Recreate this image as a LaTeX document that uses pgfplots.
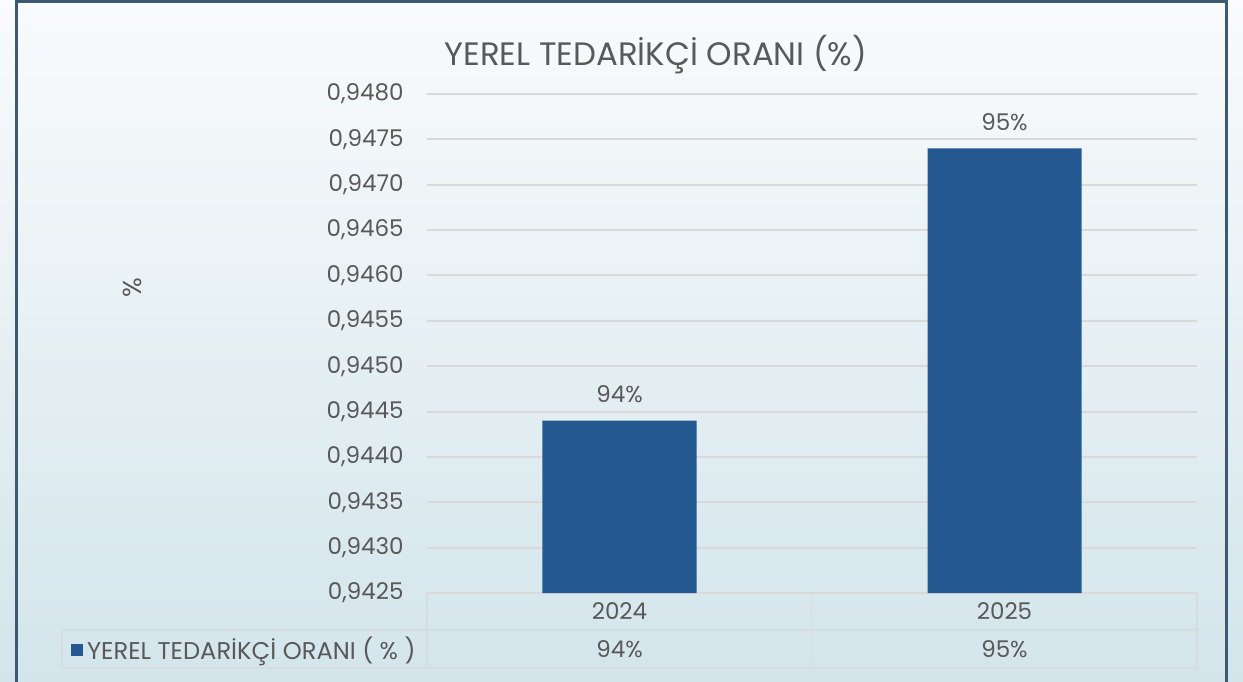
\documentclass[border=0pt]{standalone}
\usepackage{fontspec}
\setmainfont{Poppins}
\usepackage{pgfplots}
\pgfplotsset{compat=1.18}
\definecolor{bar}{RGB}{37,89,145}
\definecolor{txt}{RGB}{89,89,89}
\definecolor{grd}{RGB}{217,217,217}
\definecolor{bgtop}{RGB}{249,251,252}
\definecolor{bgbot}{RGB}{211,229,235}
\definecolor{frame}{RGB}{62,90,114}
\definecolor{tbl}{RGB}{214,220,223}
\begin{document}
\begin{tikzpicture}
\path[use as bounding box, top color=bgtop, bottom color=bgbot] (0,0) rectangle (621.5pt,-340.5pt);
\draw[frame, line width=1.5pt] (8.25pt,-0.75pt) rectangle (613.25pt,-348pt);
\begin{scope}[tbl, line width=0.9pt]
\draw (31pt,-315pt) -- (598.5pt,-315pt);
\draw (31pt,-334pt) -- (598.5pt,-334pt);
\draw (31pt,-315pt) -- (31pt,-334pt);
\draw (213.5pt,-296.5pt) -- (213.5pt,-334pt);
\draw (405.75pt,-296.5pt) -- (405.75pt,-334pt);
\draw (598.5pt,-296.5pt) -- (598.5pt,-334pt);
\end{scope}
\node[txt, font=\fontsize{16.2}{19}\selectfont] at (328pt,-27.5pt) {YEREL TEDARİKÇİ ORANI (\%)};
\node[txt, rotate=90, font=\fontsize{13}{15}\selectfont] at (66pt,-144pt) {\%};
\begin{axis}[
  at={(213.5pt,-296.5pt)}, anchor=south west,
  scale only axis, width=385pt, height=249.5pt,
  ymin=0.9425, ymax=0.9480,
  ytick={0.9425,0.9430,0.9435,0.9440,0.9445,0.9450,0.9455,0.9460,0.9465,0.9470,0.9475,0.9480},
  xmin=-0.5, xmax=1.5, xtick={0,1}, xticklabels={2024,2025},
  axis line style={draw=none},
  major tick length=0pt,
  ymajorgrids, grid style={grd, line width=1pt},
  clip=false,
  font=\fontsize{11.5}{14}\selectfont,
  tick label style={txt},
  /pgf/number format/.cd, fixed, fixed zerofill, precision=4, use comma, assume math mode=true,
  /pgfplots/.cd,
  scaled y ticks=false,
  yticklabel style={anchor=east, inner sep=0pt, xshift=-11.5pt},
  xticklabel style={anchor=center, inner sep=0pt, yshift=-9.25pt},
  legend style={at={(-0.4623,-0.1132)}, anchor=west, draw=none, fill=none, inner sep=0pt, outer sep=0pt,
    font=\fontsize{12.1}{14}\selectfont, text=txt,
    /tikz/every even column/.style={column sep=3pt}},
  legend image code/.code={\fill[bar] (0pt,-3pt) rectangle (6pt,3pt);},
  nodes near coords,
  point meta=explicit symbolic,
  nodes near coords style={txt, anchor=base, inner sep=0pt, yshift=9pt, font=\fontsize{11.5}{14}\selectfont},
]
\addplot[ybar, bar width=77pt, fill=bar, draw=none] coordinates {(0,0.9444) [94\%] (1,0.9474) [95\%]};
\addlegendentry{YEREL TEDARİKÇİ ORANI ( \% )}
\node[txt, font=\fontsize{11.5}{14}\selectfont] at (axis cs:0,0.9425) [yshift=-28pt] {94\%};
\node[txt, font=\fontsize{11.5}{14}\selectfont] at (axis cs:1,0.9425) [yshift=-28pt] {95\%};
\end{axis}
\end{tikzpicture}
\end{document}
